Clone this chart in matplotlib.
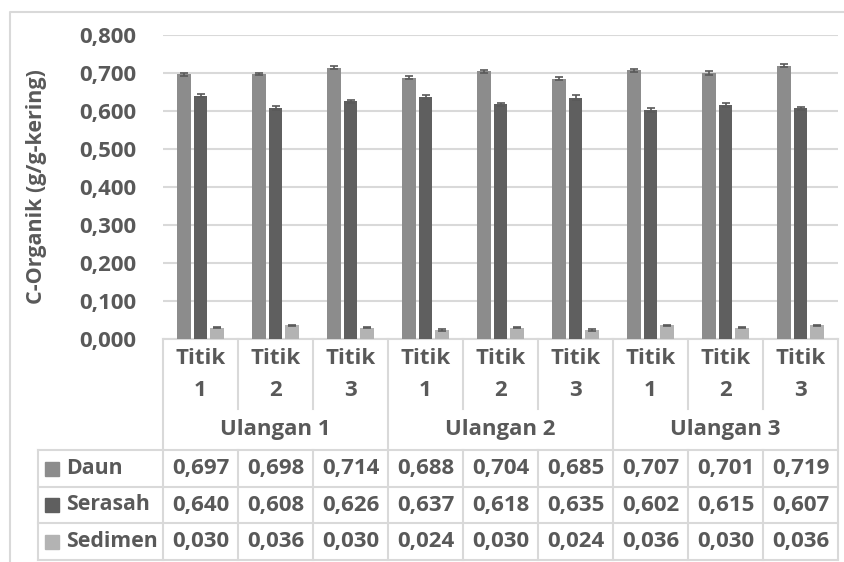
import numpy as np
import matplotlib
matplotlib.use("Agg")
import matplotlib.pyplot as plt
from matplotlib.patches import Rectangle

# data
groups = ["Ulangan 1", "Ulangan 2", "Ulangan 3"]
points = ["Titik\n1", "Titik\n2", "Titik\n3"]
series = ["Daun", "Serasah", "Sedimen"]
daun = [0.697, 0.698, 0.714, 0.688, 0.704, 0.685, 0.707, 0.701, 0.719]
serasah = [0.640, 0.608, 0.626, 0.637, 0.618, 0.635, 0.602, 0.615, 0.607]
sedimen = [0.030, 0.036, 0.030, 0.024, 0.030, 0.024, 0.036, 0.030, 0.036]
err_daun = [0.004, 0.003, 0.004, 0.004, 0.004, 0.004, 0.004, 0.005, 0.004]
err_serasah = [0.004, 0.005, 0.004, 0.006, 0.004, 0.006, 0.005, 0.005, 0.004]
err_sedimen = [0.002, 0.002, 0.002, 0.002, 0.002, 0.002, 0.002, 0.002, 0.002]
yticks = [0.0, 0.1, 0.2, 0.3, 0.4, 0.5, 0.6, 0.7, 0.8]

colors = ["#8c8c8c", "#5f5f5f", "#b3b3b3"]
txt = "#595959"
grid = "#d9d9d9"
plt.rcParams['font.family'] = ['Open Sans', 'DejaVu Sans']
fs = 16

W, H = 844, 562
fig = plt.figure(figsize=(W / 100, H / 100), dpi=100)

# overlay in pixel coordinates for border + table
ov = fig.add_axes([0, 0, 1, 1])
ov.set_xlim(0, W)
ov.set_ylim(H, 0)
ov.axis("off")

def px_axes(x0, y0, x1, y1):
    return [x0 / W, 1 - y1 / H, (x1 - x0) / W, (y1 - y0) / H]

L, R, T, B = 163, 838, 35, 339
ax = fig.add_axes(px_axes(L, T, R, B))
ax.patch.set_alpha(0)

vals = [daun, serasah, sedimen]
errs = [err_daun, err_serasah, err_sedimen]
x = np.arange(9)
offs = [-0.22, 0.0, 0.22]
for v, e, c, o in zip(vals, errs, colors, offs):
    ax.bar(x + o, v, width=0.175, color=c, zorder=3)
    ax.errorbar(x + o, v, yerr=e, fmt="none", ecolor="#595959",
                elinewidth=1.2, capsize=3, capthick=1.2, zorder=4)

ax.set_xlim(-0.5, 8.5)
ax.set_ylim(0, 0.8)
ax.set_yticks(yticks)
ax.set_yticklabels([f"{t:.3f}".replace(".", ",") for t in yticks],
                   fontsize=fs, fontweight="bold", color=txt)
ax.tick_params(axis="y", length=0, pad=19)
ax.set_xticks([])
ax.yaxis.grid(True, color=grid, linewidth=1.5, zorder=0)
for s in ax.spines.values():
    s.set_visible(False)
ax.set_ylabel("C-Organik (g/g-kering)", fontsize=15.5, fontweight="bold",
              color=txt, labelpad=10)
ax.yaxis.set_label_coords(-(L - 47) / (R - L), 0.5)

# chart border
ov.plot([10, 10, W + 5], [H + 5, 12, 12], color=grid, lw=1.5)

# table
cw = (R - L) / 9
lc = "#d9d9d9"
lw = 1.5
ov.plot([L, R], [B, B], color=lc, lw=lw)
for i in range(10):
    xx = L + i * cw
    if i % 3:
        ov.plot([xx, xx], [B, 409], color=lc, lw=lw)
        ov.plot([xx, xx], [450, 560], color=lc, lw=lw)
    else:
        ov.plot([xx, xx], [B, 560], color=lc, lw=lw)
rows = [450, 487, 523, 560]
for ry in rows:
    ov.plot([38, R], [ry, ry], color=lc, lw=lw)
ov.plot([38, 38], [450, 560], color=lc, lw=lw)

for i in range(9):
    cx = L + (i + 0.5) * cw
    t1, t2 = points[i % 3].split("\n")
    ov.text(cx, 358, t1, ha="center", va="center", fontsize=fs,
            fontweight="bold", color=txt)
    ov.text(cx, 391, t2, ha="center", va="center", fontsize=fs,
            fontweight="bold", color=txt)
for g, name in enumerate(groups):
    cx = L + (g * 3 + 1.5) * cw
    ov.text(cx, 430, name, ha="center", va="center", fontsize=fs,
            fontweight="bold", color=txt)

for r, (name, v, c) in enumerate(zip(series, vals, colors)):
    cy = (rows[r] + rows[r + 1]) / 2
    ov.add_patch(Rectangle((45, cy - 7), 14, 14, color=c))
    ov.text(66, cy, name, ha="left", va="center", fontsize=15.3,
            fontweight="bold", color=txt)
    for i in range(9):
        cx = L + (i + 0.5) * cw
        ov.text(cx, cy, f"{v[i]:.3f}".replace(".", ","), ha="center",
                va="center", fontsize=fs, fontweight="bold", color=txt)

fig.savefig("out.png", dpi=100)
